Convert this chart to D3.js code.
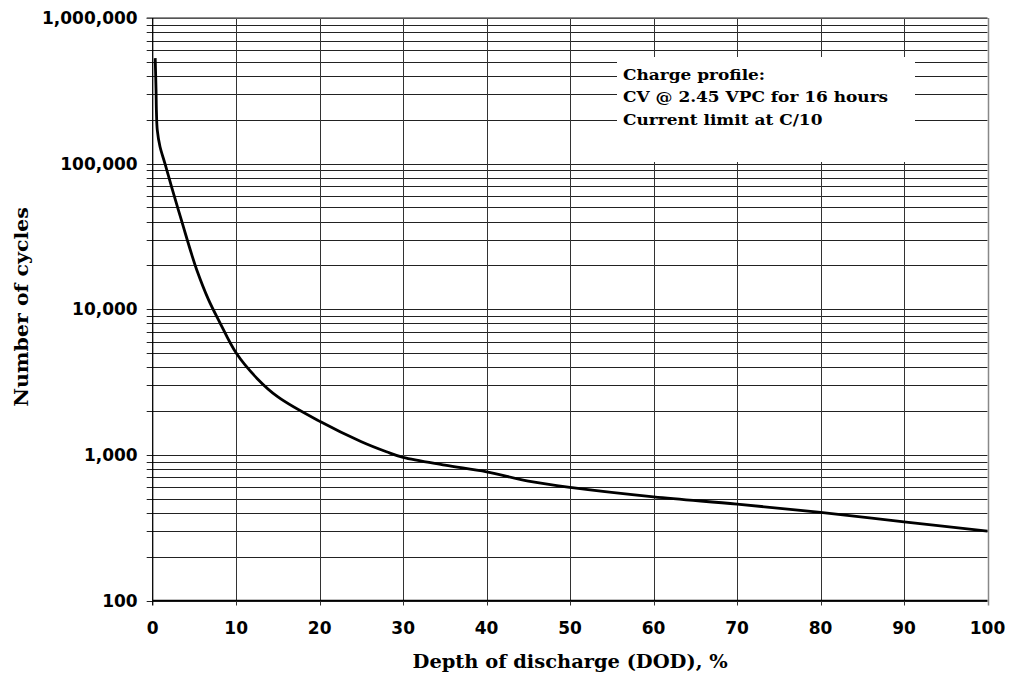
<!DOCTYPE html>
<html><head><meta charset="utf-8">
<script src="https://cdn.jsdelivr.net/npm/d3@7"></script>
<style>body{margin:0;background:#fff;}svg{display:block;}</style>
</head><body>
<svg id="chart" width="1010" height="673"></svg>
<script>
const dod = [0.3, 0.4, 0.45, 0.55, 0.87, 1.47, 2.27, 3.07, 3.67, 4.67, 5.27, 6.67, 8, 10, 12.5, 15, 20, 25, 28, 30, 35, 40, 45, 50, 60, 70, 80, 90, 100];
const cycles = [530000, 320000, 225000, 170000, 131000, 100000, 69000, 48200, 36900, 23800, 18700, 11700, 8200, 5000, 3350, 2500, 1700, 1230, 1050, 960, 850, 765, 660, 598, 515, 459, 403, 347, 300];
const xTicks = [0,10,20,30,40,50,60,70,80,90,100];
const yMajor = [100, 1000, 10000, 100000, 1000000];
const yLabels = ["100", "1,000", "10,000", "100,000", "1,000,000"];
const noteLines = ["Charge profile:", "CV @ 2.45 VPC for 16 hours", "Current limit at C/10"];
const xTitle = "Depth of discharge (DOD), %";
const yTitle = "Number of cycles";

const svg = d3.select("#chart");
const L = 152.7, R = 987.5, T = 18, B = 600.5;
const x = d3.scaleLinear().domain([0,100]).range([L,R]);
const y = d3.scaleLog().domain([100,1000000]).range([B,T]);

const minor = [];
for (let d = 100; d < 1000000; d *= 10) for (let k = 1; k < 10; k++) minor.push(d*k);
minor.push(1000000);

const sans = "'DejaVu Sans', Verdana, sans-serif";
const serif = "'DejaVu Serif', serif";

// horizontal grid
svg.append("g").selectAll("line").data(minor).join("line")
  .attr("x1", L - 6).attr("x2", R)
  .attr("y1", d => Math.round(y(d)) + 0.5).attr("y2", d => Math.round(y(d)) + 0.5)
  .attr("stroke", "#222").attr("stroke-width", 1);
// vertical grid
svg.append("g").selectAll("line").data(xTicks.slice(1)).join("line")
  .attr("x1", d => Math.round(x(d)) + 0.5).attr("x2", d => Math.round(x(d)) + 0.5)
  .attr("y1", T).attr("y2", B + 5)
  .attr("stroke", d => d === 100 ? "#888" : "#333").attr("stroke-width", d => d === 100 ? 1.5 : 1);
// top border
svg.append("line").attr("x1", L - 6).attr("x2", R).attr("y1", y(1000000)).attr("y2", y(1000000))
  .attr("stroke", "#666").attr("stroke-width", 1.5);
// axes lines
svg.append("line").attr("x1", L).attr("x2", L).attr("y1", T).attr("y2", B + 5)
  .attr("stroke", "#000").attr("stroke-width", 1.3);
svg.append("line").attr("x1", L).attr("x2", R).attr("y1", B).attr("y2", B)
  .attr("stroke", "#000").attr("stroke-width", 1.3);

// annotation box
const bx = 617, by = 57, bw = 298, bh = 105;
svg.append("rect").attr("x", bx).attr("y", by).attr("width", bw).attr("height", bh).attr("fill", "#fff");
svg.append("g").attr("transform", `translate(${bx + 6},0) scale(1.13,1)`)
  .selectAll("text").data(noteLines).join("text")
  .attr("x", 0).attr("y", (d,i) => 80 + i*22.5)
  .attr("font-family", serif).attr("font-weight", "bold").attr("font-size", 15)
  .attr("fill", "#000").text(d => d);

// y labels
svg.append("g").selectAll("text").data(yMajor).join("text")
  .attr("x", L - 15).attr("y", d => y(d)).attr("dy", "0.36em")
  .attr("text-anchor", "end").attr("font-family", sans).attr("font-weight", "bold")
  .attr("font-size", 17).attr("fill", "#000").text((d,i) => yLabels[i]);
// x labels
svg.append("g").selectAll("text").data(xTicks).join("text")
  .attr("x", d => x(d)).attr("y", 633.5)
  .attr("text-anchor", "middle").attr("font-family", sans).attr("font-weight", "bold")
  .attr("font-size", 17).attr("fill", "#000").text(d => d);

// titles
svg.append("text").attr("transform", `translate(${(L+R)/2},668) scale(1.08,1)`).attr("text-anchor", "middle")
  .attr("font-family", serif).attr("font-weight", "bold").attr("font-size", 18)
  .attr("fill", "#000").text(xTitle);
svg.append("text").attr("transform", "translate(28,307) rotate(-90) scale(1.08,1)").attr("text-anchor", "middle")
  .attr("font-family", serif).attr("font-weight", "bold").attr("font-size", 19)
  .attr("fill", "#000").text(yTitle);

// curve
const line = d3.line().x(d => x(d[0])).y(d => y(d[1])).curve(d3.curveCatmullRom.alpha(0.5));
svg.append("path").datum(dod.map((d,i) => [d, cycles[i]]))
  .attr("d", line).attr("fill", "none").attr("stroke", "#000").attr("stroke-width", 2.8)
  .attr("stroke-linejoin", "round").attr("stroke-linecap", "butt");
</script>
</body></html>
